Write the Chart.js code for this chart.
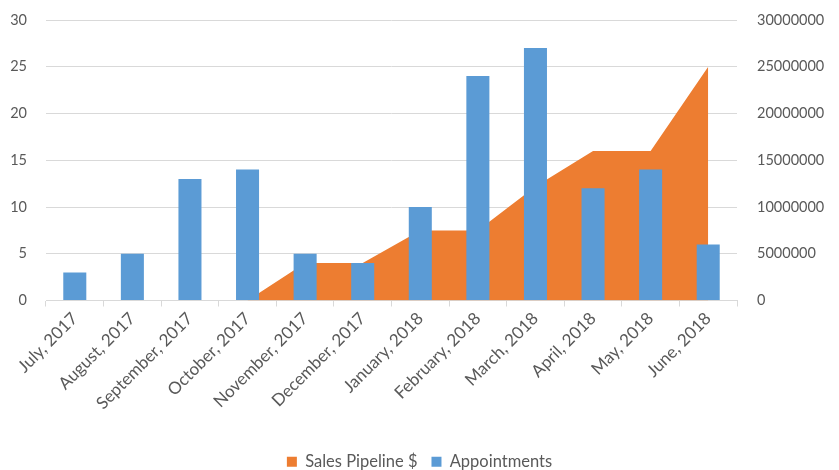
<!DOCTYPE html>
<html>
<head>
<meta charset="utf-8">
<script src="https://cdn.jsdelivr.net/npm/chart.js@4"></script>
<style>
  body { margin: 0; background: #fff; }
  #wrap { width: 839px; height: 470px; }
</style>
</head>
<body>
<div id="wrap"><canvas id="myChart"></canvas></div>
<script>
// months on the category axis
let months = ['July, 2017', 'August, 2017', 'September, 2017', 'October, 2017', 'November, 2017', 'December, 2017',
              'January, 2018', 'February, 2018', 'March, 2018', 'April, 2018', 'May, 2018', 'June, 2018']
// bars, left axis
let appointments = [3, 5, 13, 14, 5, 4, 10, 24, 27, 12, 14, 6]
// area, right axis
let pipeline = [0, 0, 0, 0, 4000000, 4000000, 7500000, 7500000, 12200000, 16000000, 16000000, 25000000]

let leftTicks = [0, 5, 10, 15, 20, 25, 30]
let rightTicks = [0, 5000000, 10000000, 15000000, 20000000, 25000000, 30000000]

Chart.defaults.font.family = 'Lato, "Liberation Sans", sans-serif'
Chart.defaults.font.size = 15
Chart.defaults.color = '#595959'

// y axes: fixed width, no extra top/bottom padding from the tick labels
function fixY(width) {
    return axis => {
        axis.width = width
        axis.paddingTop = 0
        axis.paddingBottom = 0
    }
}

let ctx = document.getElementById('myChart').getContext('2d')
let myChart = new Chart(ctx, {
    data: {
        labels: months,
        datasets: [{
            type: 'line',
            label: 'Sales Pipeline $',
            data: pipeline,
            yAxisID: 'y1',
            fill: 'origin',
            backgroundColor: '#ED7D31',
            borderColor: '#ED7D31',
            borderWidth: 0,
            pointRadius: 0,
            pointHoverRadius: 0,
            tension: 0,
            order: 1
        }, {
            type: 'bar',
            label: 'Appointments',
            data: appointments,
            yAxisID: 'y',
            backgroundColor: '#5B9BD5',
            barPercentage: 1,
            categoryPercentage: 0.4,
            order: 0
        }]
    },
    options: {
        responsive: true,
        maintainAspectRatio: false,
        animation: false,
        layout: {
            padding: { left: 0, right: 0, top: 20, bottom: -10 }
        },
        scales: {
            x: {
                offset: true,
                grid: {
                    offset: true,
                    drawOnChartArea: false,
                    drawTicks: true,
                    tickLength: 6,
                    color: '#d9d9d9'
                },
                border: { color: '#d9d9d9' },
                ticks: { minRotation: 45, maxRotation: 45, padding: 2, font: { size: 17 } },
                afterFit: axis => {
                    axis.paddingLeft = 0
                    axis.paddingRight = 0
                    axis.height = 139
                }
            },
            y: {
                position: 'left',
                min: 0,
                max: 30,
                afterBuildTicks: axis => { axis.ticks = leftTicks.map(v => ({ value: v })) },
                afterFit: fixY(46),
                grid: { color: '#d9d9d9', drawTicks: false },
                border: { display: false },
                ticks: { padding: 19, font: { size: 14.5 } }
            },
            y1: {
                position: 'right',
                min: 0,
                max: 30000000,
                afterBuildTicks: axis => { axis.ticks = rightTicks.map(v => ({ value: v })) },
                afterFit: fixY(102),
                grid: { drawOnChartArea: false, drawTicks: false },
                border: { display: false },
                ticks: { padding: 20, font: { size: 14.5 }, callback: v => String(v) }
            }
        },
        plugins: {
            tooltip: { enabled: false },
            legend: {
                position: 'bottom',
                labels: {
                    boxWidth: 10,
                    boxHeight: 10,
                    padding: 14,
                    font: { size: 16.5 },
                    sort: (a, b) => a.datasetIndex - b.datasetIndex
                }
            }
        }
    }
})
</script>
</body>
</html>
